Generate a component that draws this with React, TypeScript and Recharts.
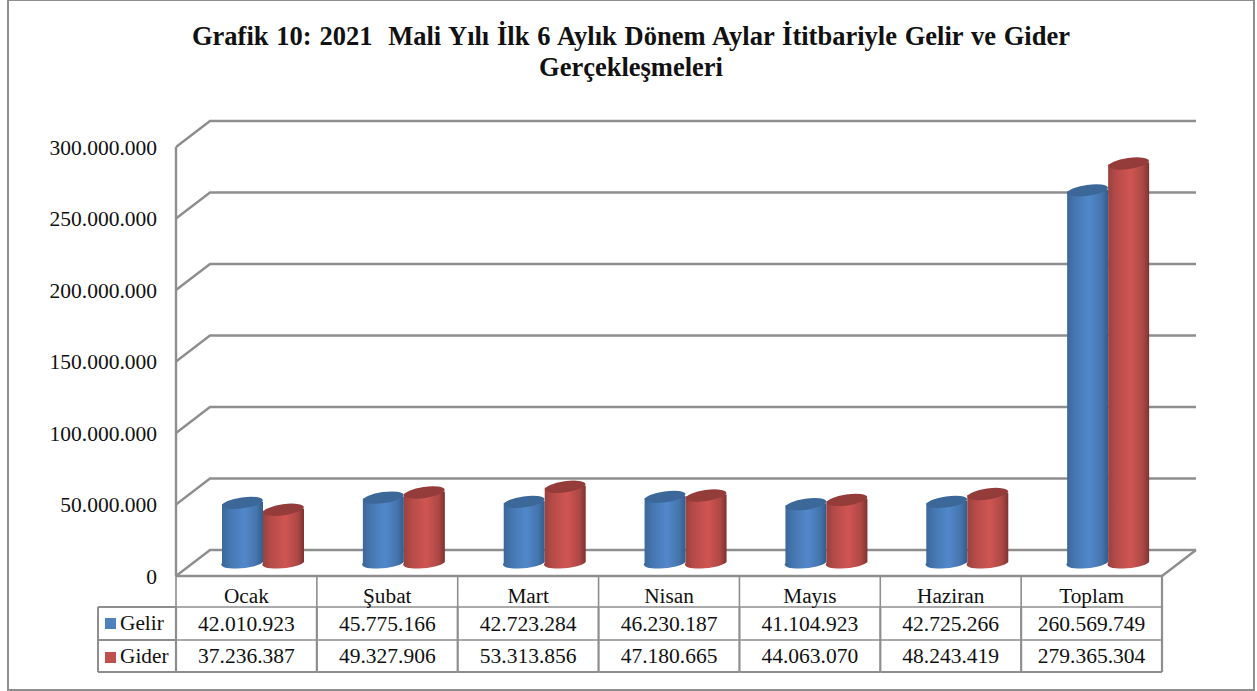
import { Bar, BarChart, CartesianGrid, XAxis, YAxis } from 'recharts';

const categories = ['Ocak', 'Şubat', 'Mart', 'Nisan', 'Mayıs', 'Haziran', 'Toplam'];
const gelir = [42010923, 45775166, 42723284, 46230187, 41104923, 42725266, 260569749];
const gider = [37236387, 49327906, 53313856, 47180665, 44063070, 48243419, 279365304];
const yTicks = [0, 50000000, 100000000, 150000000, 200000000, 250000000, 300000000];

const data = categories.map((name, i) => ({ name, gelir: gelir[i], gider: gider[i] }));

const FONT = '"Liberation Serif", "Times New Roman", serif';
const LINE = '#8e8e8e';
const TEXT = '#111';

// chart box
const PLOT_LEFT = 176;
const PLOT_RIGHT = 1162;
const PLOT_TOP = 147;
const PLOT_BOTTOM = 576;
const CELL = (PLOT_RIGHT - PLOT_LEFT) / categories.length;

// fake 3d depth of the walls
const DEPTH_X = 34;
const DEPTH_Y = 26;

const dotted = (v: number) => String(v).replace(/\B(?=(\d{3})+(?!\d))/g, '.');

const WallLine = (props: any) => {
  const { x1, x2, y1 } = props;
  const backY = y1 - DEPTH_Y;
  return (
    <g>
      <polyline
        points={`${x1},${y1} ${x1 + DEPTH_X},${backY} ${x2 + DEPTH_X},${backY}`}
        fill="none"
        stroke={LINE}
        strokeWidth={2.4}
      />
      {y1 >= PLOT_BOTTOM - 1 && (
        <line x1={x2} y1={y1} x2={x2 + DEPTH_X} y2={backY} stroke={LINE} strokeWidth={2.4} />
      )}
    </g>
  );
};

const Cylinder = (props: any) => {
  const { x, y, width, height, side, top } = props;
  const rx = width / 2;
  const ry = 5.5;
  const left = x + DEPTH_X / 2;
  const right = left + width;
  const cx = left + rx;
  const yTop = y - DEPTH_Y / 2;
  const yBottom = yTop + height;
  return (
    <g>
      <path
        d={`M${left},${yTop + 1} L${left},${yBottom} A${rx},${ry} -6 0 0 ${right},${yBottom - 1} L${right},${yTop - 1} Z`}
        fill={`url(#${side})`}
      />
      <ellipse cx={cx} cy={yTop} rx={rx} ry={ry} fill={top} transform={`rotate(-8 ${cx} ${yTop})`} />
    </g>
  );
};

const TableColumn = (props: any) => {
  const { x, y, payload, index } = props;
  const left = x - CELL / 2;
  const right = x + CELL / 2;
  const rows = [y + 31, y + 64, y + 96];
  const labelStyle = { fontFamily: FONT, fontSize: 21.3, fill: TEXT };
  const valueStyle = { fontFamily: FONT, fontSize: 21.5, fill: TEXT };
  return (
    <g>
      <line x1={left} y1={y} x2={left} y2={rows[0]} stroke={LINE} strokeWidth={1.6} />
      <line x1={left} y1={rows[0]} x2={left} y2={rows[2]} stroke={LINE} strokeWidth={2.2} />
      <line x1={left} y1={rows[0]} x2={right} y2={rows[0]} stroke={LINE} strokeWidth={1.6} />
      <line x1={left} y1={rows[1]} x2={right} y2={rows[1]} stroke={LINE} strokeWidth={1.6} />
      <line x1={left} y1={rows[2]} x2={right} y2={rows[2]} stroke={LINE} strokeWidth={2.2} />
      {index === categories.length - 1 && (
        <line x1={right} y1={y} x2={right} y2={rows[2]} stroke={LINE} strokeWidth={2.2} />
      )}
      <text x={x} y={y + 27} textAnchor="middle" {...labelStyle}>{payload.value}</text>
      <text x={x} y={y + 55} textAnchor="middle" {...valueStyle}>{dotted(gelir[index])}</text>
      <text x={x} y={y + 87} textAnchor="middle" {...valueStyle}>{dotted(gider[index])}</text>
      {index === 0 && (
        <g>
          <line x1={98} y1={rows[0]} x2={left} y2={rows[0]} stroke={LINE} strokeWidth={2} />
          <line x1={98} y1={rows[1]} x2={left} y2={rows[1]} stroke={LINE} strokeWidth={2} />
          <line x1={98} y1={rows[2]} x2={left} y2={rows[2]} stroke={LINE} strokeWidth={2} />
          <line x1={98} y1={rows[0]} x2={98} y2={rows[2]} stroke={LINE} strokeWidth={2} />
          <rect x={105} y={y + 42} width={11} height={11} fill="#4f81bd" />
          <rect x={105} y={y + 76} width={11} height={11} fill="#c0504d" />
          <text x={120} y={y + 54} {...labelStyle}>Gelir</text>
          <text x={120} y={y + 87} {...labelStyle}>Gider</text>
        </g>
      )}
    </g>
  );
};

export default function App() {
  return (
    <div style={{ position: 'absolute', left: 0, top: 0, width: 1257, height: 691, background: '#fff' }}>
      <div
        style={{
          position: 'absolute',
          left: 7,
          top: -1,
          width: 1248,
          height: 692,
          border: `2px solid ${LINE}`,
          boxSizing: 'border-box',
        }}
      />
      <div
        style={{
          position: 'absolute',
          left: 131,
          top: 21,
          width: 1000,
          textAlign: 'center',
          fontFamily: FONT,
          fontWeight: 'bold',
          fontSize: 26.5,
          lineHeight: '31px',
          color: TEXT,
          whiteSpace: 'pre',
        }}
      >
        <div style={{ wordSpacing: 1.2 }}>{'Grafik 10: 2021  Mali Yılı İlk 6 Aylık Dönem Aylar İtitbariyle Gelir ve Gider'}</div>
        <div>Gerçekleşmeleri</div>
      </div>
      <BarChart
        width={1257}
        height={691}
        data={data}
        margin={{ top: PLOT_TOP, right: 1257 - PLOT_RIGHT, bottom: 0, left: 0 }}
        barSize={41}
        barGap={0}
        style={{ position: 'absolute', left: 0, top: 0 }}
      >
        <defs>
          <linearGradient id="gelirSide" x1="0" y1="0" x2="1" y2="0">
            <stop offset="0" stopColor="#3a6699" />
            <stop offset="0.2" stopColor="#4576b0" />
            <stop offset="0.55" stopColor="#5288cb" />
            <stop offset="0.85" stopColor="#4474ac" />
            <stop offset="1" stopColor="#335c8b" />
          </linearGradient>
          <linearGradient id="giderSide" x1="0" y1="0" x2="1" y2="0">
            <stop offset="0" stopColor="#97403d" />
            <stop offset="0.2" stopColor="#b44b48" />
            <stop offset="0.55" stopColor="#d05552" />
            <stop offset="0.85" stopColor="#ad4845" />
            <stop offset="1" stopColor="#7e3230" />
          </linearGradient>
        </defs>
        <CartesianGrid vertical={false} horizontal={WallLine} />
        <XAxis
          dataKey="name"
          height={691 - PLOT_BOTTOM}
          interval={0}
          tickSize={0}
          tickMargin={0}
          tickLine={false}
          axisLine={{ stroke: LINE, strokeWidth: 2.4 }}
          tick={TableColumn}
        />
        <YAxis
          width={PLOT_LEFT}
          domain={[0, 300000000]}
          ticks={yTicks}
          tickFormatter={dotted}
          tickSize={0}
          tickMargin={19}
          tickLine={false}
          axisLine={{ stroke: LINE, strokeWidth: 2.4 }}
          tick={{ fontFamily: FONT, fontSize: 21.5, fill: TEXT }}
        />
        <Bar dataKey="gelir" isAnimationActive={false} shape={(p: any) => <Cylinder {...p} side="gelirSide" top="#3b6898" />} />
        <Bar dataKey="gider" isAnimationActive={false} shape={(p: any) => <Cylinder {...p} side="giderSide" top="#943c3a" />} />
      </BarChart>
    </div>
  );
}
